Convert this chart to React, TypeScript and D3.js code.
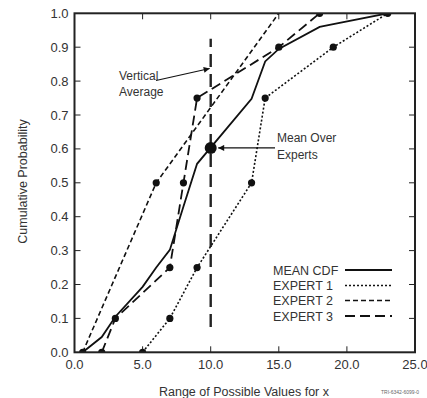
import React from 'react';
import * as d3 from 'd3';

// Axis ticks
const xTicks = [0, 5, 10, 15, 20, 25];
const yTicks = [0, 0.1, 0.2, 0.3, 0.4, 0.5, 0.6, 0.7, 0.8, 0.9, 1.0];

// Expert CDFs (value of x, cumulative probability)
const expert1X = [5, 7, 9, 13, 14, 19, 23];
const expert1P = [0, 0.1, 0.25, 0.5, 0.75, 0.9, 1.0];
const expert2X = [0.6, 6, 15];
const expert2P = [0, 0.5, 1.0];
const expert2Marked = [true, true, false];
const expert3X = [2, 3, 7, 8, 9, 15, 18];
const expert3P = [0, 0.1, 0.25, 0.5, 0.75, 0.9, 1.0];

// Mean CDF over the three experts
const meanX = [0.6, 2, 3, 5, 6, 7, 8, 9, 13, 14, 15, 18, 19, 23];
const meanP = [0, 0.045, 0.105, 0.193, 0.25, 0.302, 0.43, 0.556, 0.748, 0.858, 0.895, 0.96, 0.968, 1.0];

// Highlighted mean point and the vertical averaging line
const meanPointX = 10;
const meanPointP = 0.603;
const verticalX = 10;
const verticalP = [0.075, 0.925];

const legendLabels = ['MEAN CDF', 'EXPERT 1', 'EXPERT 2', 'EXPERT 3'];

const W = 427;
const H = 398;
const L = 74.5, R = 415, T = 13.3, B = 352.3;
const FONT = 'Liberation Sans, Arial, Helvetica, sans-serif';

const styles = [
  { dash: undefined as string | undefined, width: 1.8 },
  { dash: '2,2', width: 1.6 },
  { dash: '5,3', width: 1.6 },
  { dash: '10,5', width: 1.8 },
];

export default function App() {
  const x = d3.scaleLinear().domain([0, 25]).range([L, R]);
  const y = d3.scaleLinear().domain([0, 1]).range([B, T]);
  const line = d3.line<[number, number]>().x(d => x(d[0])).y(d => y(d[1]));

  const zip = (xs: number[], ps: number[]) => xs.map((v, i) => [v, ps[i]] as [number, number]);
  const series = [
    zip(meanX, meanP),
    zip(expert1X, expert1P),
    zip(expert2X, expert2P),
    zip(expert3X, expert3P),
  ];
  const dots: [number, number][] = [
    ...zip(expert1X, expert1P),
    ...zip(expert2X, expert2P).filter((_, i) => expert2Marked[i]),
    ...zip(expert3X, expert3P),
  ];

  const legendX0 = 345, legendX1 = 392, legendTextX = 273;
  const legendY = [270, 285.5, 300.5, 316];

  return (
    <svg width={W} height={H} style={{ position: 'absolute', left: 0, top: 0, background: '#fff' }}
      fontFamily={FONT}>
      <defs>
        <clipPath id="plotClip">
          <rect x={L} y={T} width={R - L} height={B - T} />
        </clipPath>
        <marker id="arrowHead" viewBox="0 0 10 10" refX="10" refY="5" markerWidth="9" markerHeight="6"
          markerUnits="userSpaceOnUse" orient="auto">
          <path d="M0,0 L10,5 L0,10 z" fill="#111" />
        </marker>
      </defs>

      {/* ticks, inward on all four sides */}
      {xTicks.slice(1, -1).map(t => (
        <g key={'xt' + t} stroke="#222" strokeWidth={1}>
          <line x1={x(t)} x2={x(t)} y1={B} y2={B - 6} />
          <line x1={x(t)} x2={x(t)} y1={T} y2={T + 6} />
        </g>
      ))}
      {yTicks.slice(1, -1).map(t => (
        <g key={'yt' + t} stroke="#222" strokeWidth={1}>
          <line x1={L} x2={L + 6} y1={y(t)} y2={y(t)} />
          <line x1={R} x2={R - 6} y1={y(t)} y2={y(t)} />
        </g>
      ))}

      {/* tick labels */}
      {xTicks.map(t => (
        <text key={'xl' + t} x={x(t)} y={B + 17} fontSize={13} textAnchor="middle" fill="#333">
          {t.toFixed(1)}
        </text>
      ))}
      {yTicks.map(t => (
        <text key={'yl' + t} x={L - 6} y={y(t) + 4.5} fontSize={13} textAnchor="end" fill="#333">
          {t.toFixed(1)}
        </text>
      ))}

      {/* axis titles */}
      <text x={244} y={396} fontSize={12.5} textAnchor="middle" fill="#333">Range of Possible Values for x</text>
      <text transform={`translate(27,${181.5}) rotate(-90)`} fontSize={12.5} textAnchor="middle" fill="#333">
        Cumulative Probability
      </text>

      {/* vertical averaging line */}
      <line x1={x(verticalX)} x2={x(verticalX)} y1={y(verticalP[0])} y2={y(verticalP[1])}
        stroke="#222" strokeWidth={2.4} strokeDasharray="13,7" />

      {/* CDF curves */}
      <g clipPath="url(#plotClip)">
        {series.map((s, i) => (
          <path key={'s' + i} d={line(s) || ''} fill="none" stroke="#111" strokeWidth={styles[i].width}
            strokeDasharray={styles[i].dash} />
        ))}
        {dots.map((d, i) => (
          <circle key={'d' + i} cx={x(d[0])} cy={y(d[1])} r={3.6} fill="#111" />
        ))}
      </g>
      <circle cx={x(meanPointX)} cy={y(meanPointP)} r={6} fill="#111" />

      {/* frame */}
      <rect x={L} y={T} width={R - L} height={B - T} fill="none" stroke="#222" strokeWidth={2} />

      {/* annotations */}
      <text x={119} y={80} fontSize={12} fill="#333">Vertical</text>
      <text x={119} y={96} fontSize={12} fill="#333">Average</text>
      <line x1={156} y1={80.5} x2={x(verticalX) - 1} y2={68.5} stroke="#111" strokeWidth={1.2}
        markerEnd="url(#arrowHead)" />

      <text x={277} y={142} fontSize={12} fill="#333">Mean Over</text>
      <text x={277} y={159} fontSize={12} fill="#333">Experts</text>
      <line x1={275} y1={y(meanPointP)} x2={x(meanPointX) + 7.5} y2={y(meanPointP)} stroke="#111"
        strokeWidth={1.2} markerEnd="url(#arrowHead)" />

      {/* legend */}
      {legendLabels.map((lab, i) => (
        <g key={'lg' + i}>
          <text x={legendTextX} y={legendY[i] + 4.5} fontSize={12.5} fill="#333">{lab}</text>
          <line x1={legendX0} x2={legendX1} y1={legendY[i]} y2={legendY[i]} stroke="#111"
            strokeWidth={styles[i].width} strokeDasharray={styles[i].dash} />
        </g>
      ))}

      <text x={381} y={394} fontSize={5} fill="#666">TRI-6342-6099-0</text>
    </svg>
  );
}
